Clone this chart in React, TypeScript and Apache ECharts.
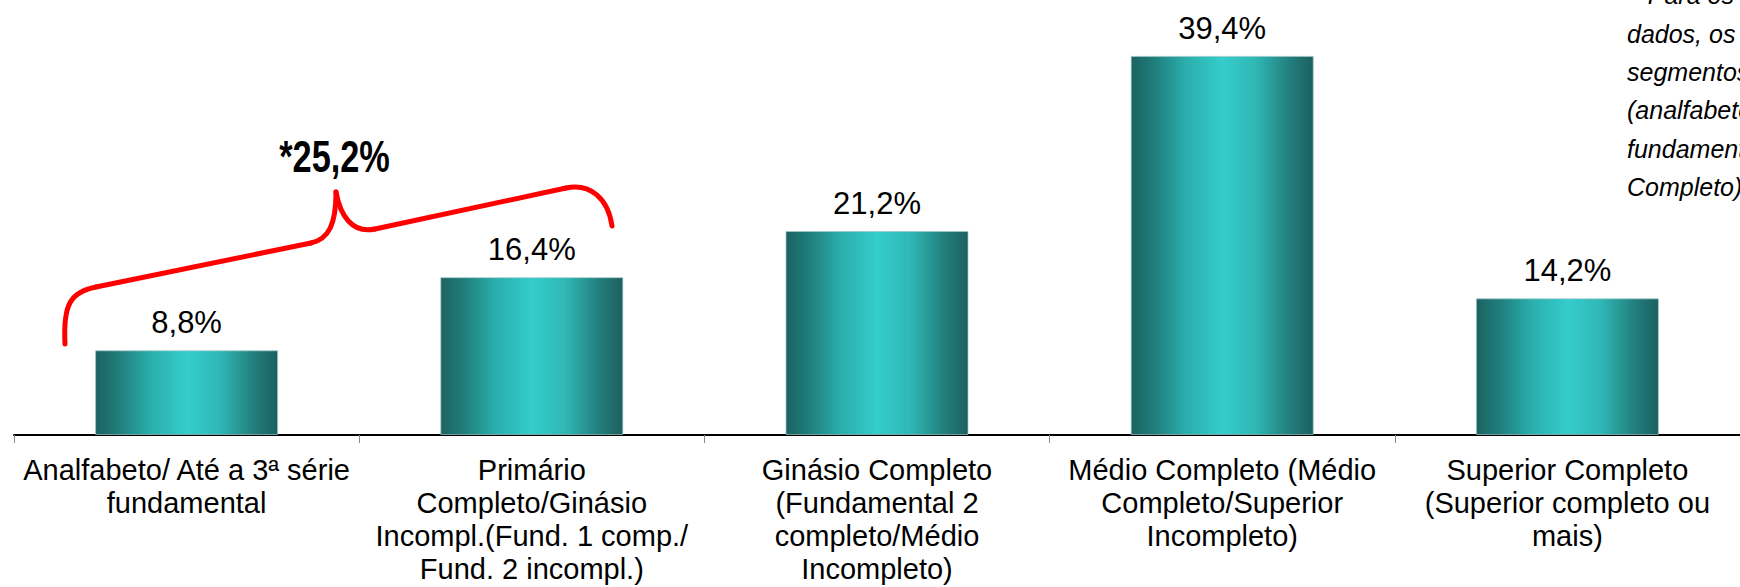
import React, { useEffect, useRef } from "react";
import * as echarts from "echarts";

const categories = [
  "Analfabeto/ Até a 3ª série\nfundamental",
  "Primário\nCompleto/Ginásio\nIncompl.(Fund. 1 comp./\nFund. 2 incompl.)",
  "Ginásio Completo\n(Fundamental 2\ncompleto/Médio\nIncompleto)",
  "Médio Completo (Médio\nCompleto/Superior\nIncompleto)",
  "Superior Completo\n(Superior completo ou\nmais)",
];
const values = [8.8, 16.4, 21.2, 39.4, 14.2];
const valueLabels = ["8,8%", "16,4%", "21,2%", "39,4%", "14,2%"];
const groupLabel = "*25,2%";
const noteFirstLine = "*Para os";
const noteLines = ["dados, os", "segmentos", "(analfabeto/", "fundamental e Primário", "Completo)"];

const FONT = "'Liberation Sans', Arial, sans-serif";

export default function App() {
  const ref = useRef<HTMLDivElement>(null);
  useEffect(() => {
    if (!ref.current) return;
    const chart = echarts.init(ref.current, undefined, { renderer: "svg" });
    const red = { stroke: "#FF0000", lineWidth: 5, fill: "none", lineCap: "round" as const };
    chart.setOption({
      animation: false,
      backgroundColor: "#ffffff",
      grid: { left: 14, top: 2, width: 1745, height: 433 },
      xAxis: {
        type: "category",
        data: categories,
        boundaryGap: true,
        axisLine: { show: true, lineStyle: { color: "#000000", width: 2 } },
        axisTick: { show: true, length: 8, lineStyle: { color: "#8a8a8a", width: 1 } },
        axisLabel: {
          interval: 0,
          margin: 18,
          fontFamily: FONT,
          fontSize: 29,
          lineHeight: 33,
          color: "#000000",
          align: "center",
        },
        splitLine: { show: false },
      },
      yAxis: {
        type: "value",
        min: 0,
        max: 45,
        show: false,
        splitLine: { show: false },
      },
      series: [
        {
          type: "bar",
          data: values,
          barWidth: 183,
          itemStyle: {
            color: new echarts.graphic.LinearGradient(0, 0, 1, 0, [
              { offset: 0, color: "#1C6361" },
              { offset: 0.12, color: "#1F7C7A" },
              { offset: 0.3, color: "#2AAEAC" },
              { offset: 0.5, color: "#35CCCC" },
              { offset: 0.68, color: "#2FB8B6" },
              { offset: 0.88, color: "#227C7A" },
              { offset: 1, color: "#1C605F" },
            ]),
            borderColor: "rgba(160,200,200,0.7)",
            borderWidth: 1,
          },
          label: {
            show: true,
            position: "top",
            distance: 12,
            fontFamily: FONT,
            fontSize: 31,
            color: "#000000",
            formatter: (p: any) => valueLabels[p.dataIndex],
          },
        },
      ],
      graphic: [
        { type: "bezierCurve", shape: { x1: 65, y1: 344, cpx1: 63, cpy1: 305, cpx2: 70, cpy2: 292, x2: 96, y2: 287 }, style: red },
        { type: "line", shape: { x1: 96, y1: 287, x2: 311, y2: 243 }, style: red },
        { type: "bezierCurve", shape: { x1: 311, y1: 243, cpx1: 329, cpy1: 239, cpx2: 336, cpy2: 224, x2: 336, y2: 192 }, style: red },
        { type: "bezierCurve", shape: { x1: 336, y1: 192, cpx1: 340, cpy1: 215, cpx2: 352, cpy2: 234, x2: 375, y2: 229 }, style: red },
        { type: "line", shape: { x1: 375, y1: 229, x2: 566, y2: 188 }, style: red },
        { type: "bezierCurve", shape: { x1: 566, y1: 188, cpx1: 590, cpy1: 183, cpx2: 608, cpy2: 198, x2: 612, y2: 226 }, style: red },
        {
          type: "text",
          x: 334.5,
          y: 156.5,
          scaleX: 0.78,
          style: {
            text: groupLabel,
            fontFamily: FONT,
            fontSize: 44,
            fontWeight: "bold",
            fill: "#000000",
            align: "center",
            verticalAlign: "middle",
            textAlign: "center",
            textVerticalAlign: "middle",
          },
        },
        {
          type: "text",
          x: 1638,
          y: -5.5,
          style: {
            text: noteFirstLine,
            fontFamily: FONT,
            fontSize: 25,
            fontStyle: "italic",
            fill: "#000000",
            align: "left",
            verticalAlign: "middle",
            textAlign: "left",
            textVerticalAlign: "middle",
          },
        },
        {
          type: "text",
          x: 1627,
          y: 14.5,
          style: {
            text: noteLines.join("\n"),
            fontFamily: FONT,
            fontSize: 25,
            lineHeight: 38.3,
            fontStyle: "italic",
            fill: "#000000",
            align: "left",
            verticalAlign: "top",
            textAlign: "left",
            textVerticalAlign: "top",
          },
        },
      ],
    });
    return () => chart.dispose();
  }, []);
  return (
    <div
      ref={ref}
      style={{ position: "absolute", left: 0, top: 0, width: 1740, height: 587 }}
    />
  );
}
